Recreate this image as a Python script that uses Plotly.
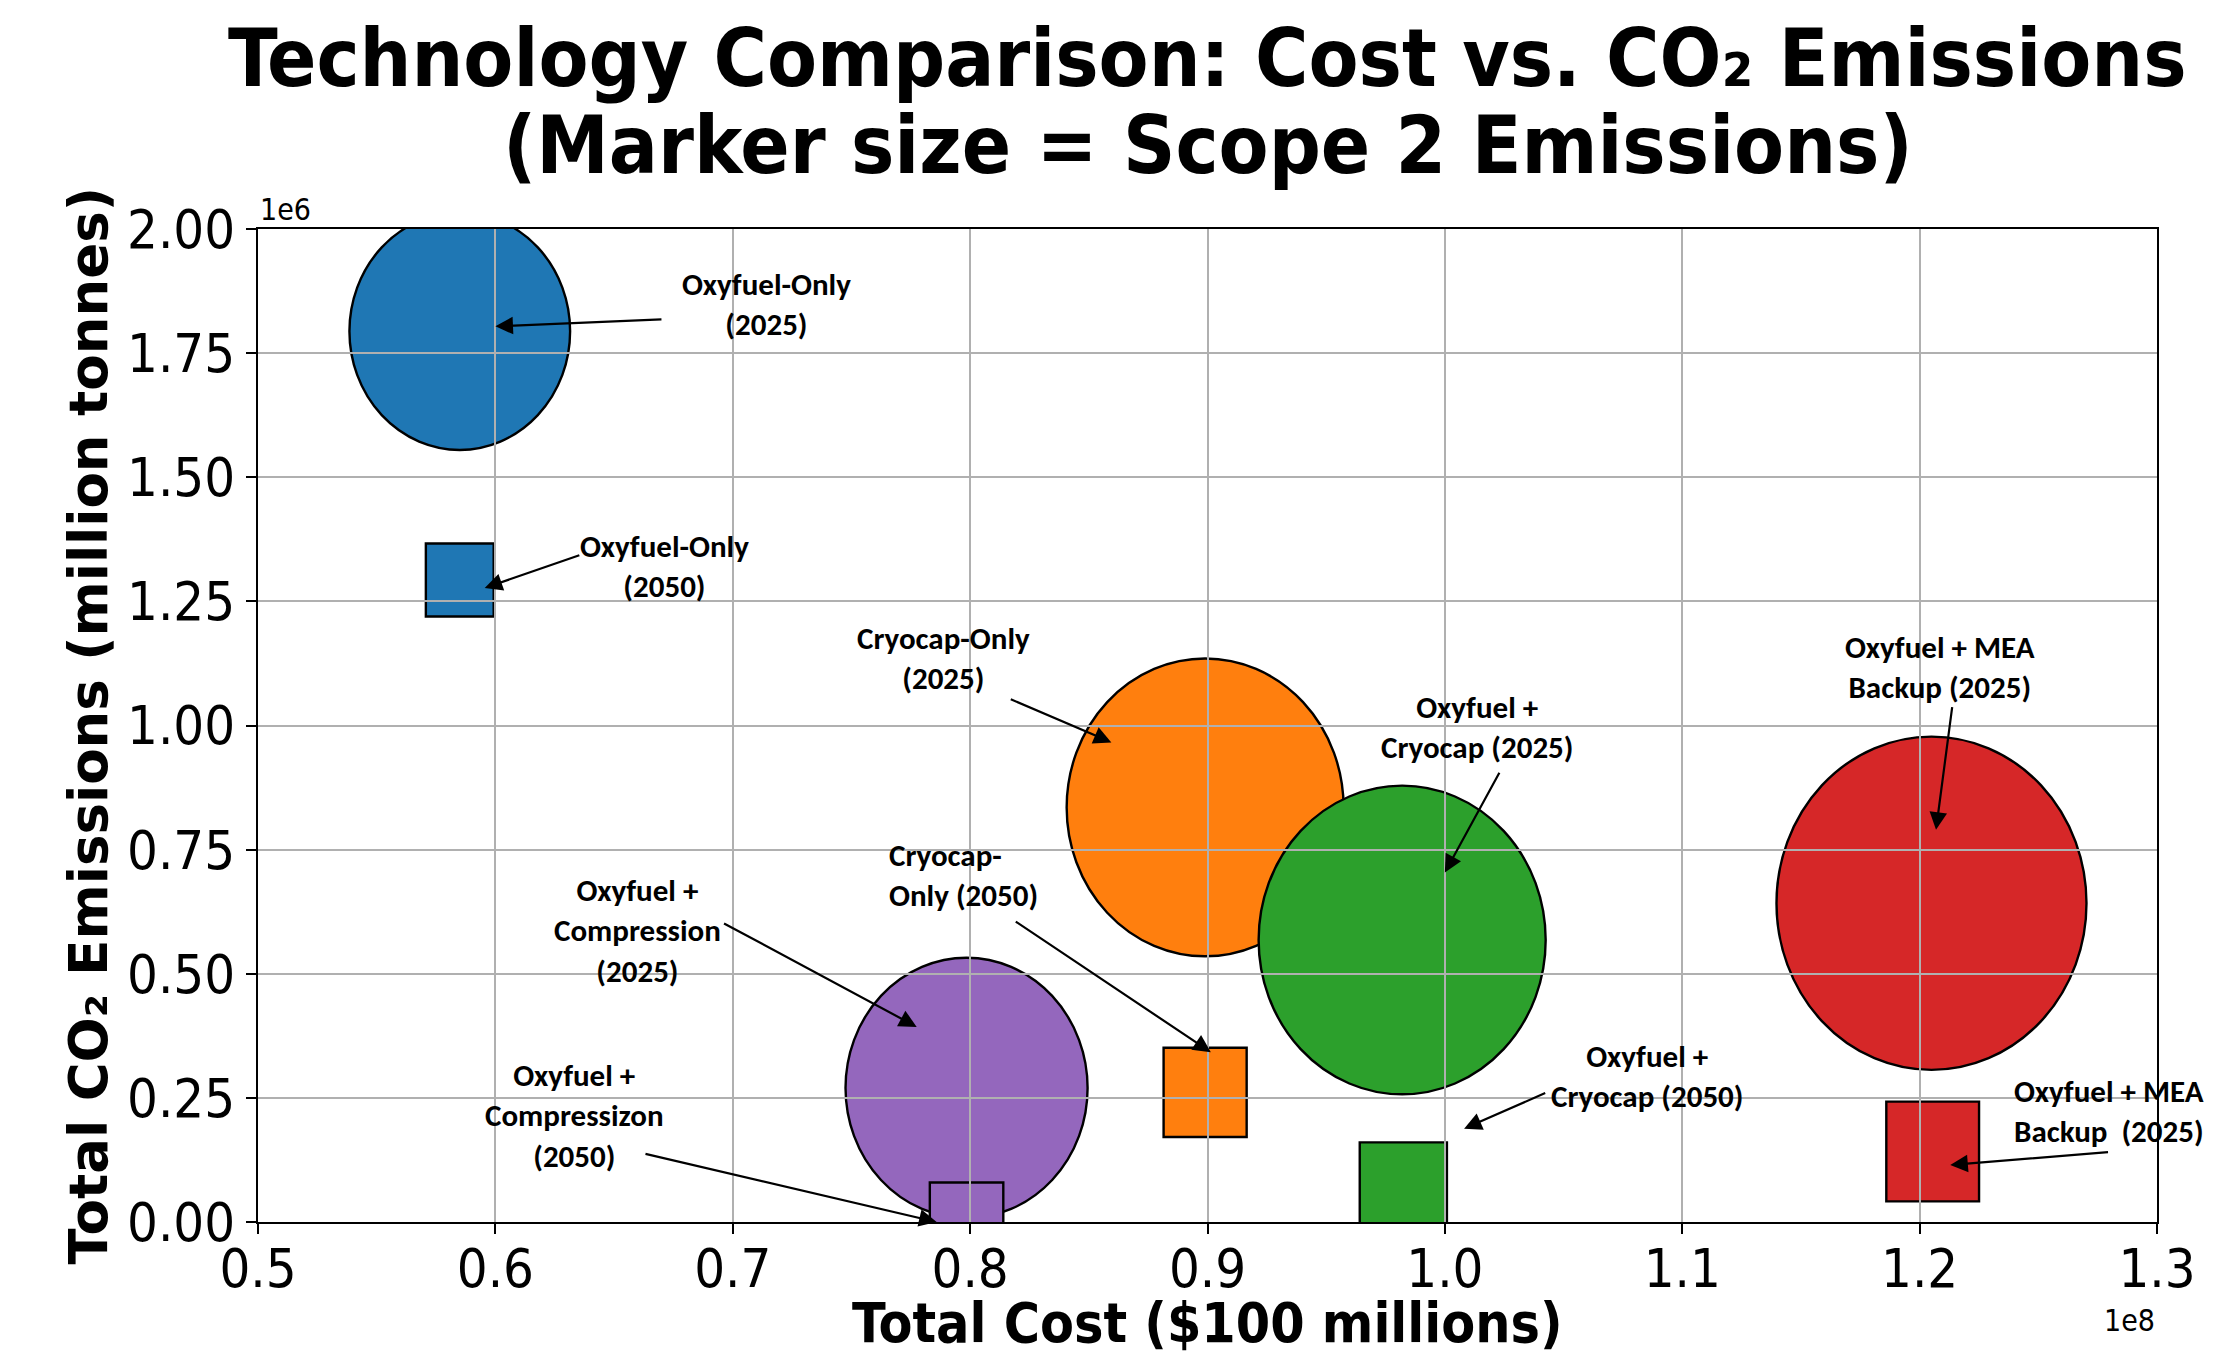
import math
import plotly.graph_objects as go

# ---------------- data ----------------
technologies = ["Oxyfuel-Only", "Cryocap-Only", "Oxyfuel + Cryocap",
                "Oxyfuel + MEA Backup", "Oxyfuel + Compression"]
colors = ["#1f77b4", "#ff7f0e", "#2ca02c", "#d62728", "#9467bd"]

# 2025 scenario (ellipses)
cost_2025 = [58.5e6, 89.9e6, 98.2e6, 120.5e6, 79.85e6]          # $
total_co2_2025 = [1.794e6, 0.835e6, 0.568e6, 0.642e6, 0.270e6]  # tonnes
scope2_2025 = [487, 767, 824, 961, 586]                          # kt (marker area)

# 2050 scenario (squares)
cost_2050 = [58.5e6, 89.9e6, 98.25e6, 120.55e6, 79.85e6]
total_co2_2050 = [1.293e6, 0.261e6, 0.066e6, 0.142e6, 0.0]
scope2_2050 = [46, 69, 76, 86, 54]

x_tick_values = [0.5e8, 0.6e8, 0.7e8, 0.8e8, 0.9e8, 1.0e8, 1.1e8, 1.2e8, 1.3e8]
x_tick_labels = ["0.5", "0.6", "0.7", "0.8", "0.9", "1.0", "1.1", "1.2", "1.3"]
y_tick_values = [0, 0.25e6, 0.5e6, 0.75e6, 1.0e6, 1.25e6, 1.5e6, 1.75e6, 2.0e6]
y_tick_labels = ["0.00", "0.25", "0.50", "0.75", "1.00", "1.25", "1.50", "1.75", "2.00"]

# annotation texts, arrow targets (data)
label_texts = [
    "Oxyfuel-Only<br>(2025)",
    "Oxyfuel-Only<br>(2050)",
    "Cryocap-Only<br>(2025)",
    "Oxyfuel +<br>Cryocap (2025)",
    "Oxyfuel + MEA<br>Backup (2025)",
    "Oxyfuel +<br>Compression<br>(2025)",
    "Cryocap-<br>Only (2050)",
    "Oxyfuel +<br>Compressizon<br>(2050)",
    "Oxyfuel +<br>Cryocap (2050)",
    "Oxyfuel + MEA<br>Backup\u00a0 (2025)",
]
arrow_x = [60.0e6, 59.55e6, 85.95e6, 100.0e6, 120.69e6, 77.75e6, 90.14e6, 78.59e6, 100.81e6, 121.29e6]
arrow_y = [1.804e6, 1.277e6, 0.966e6, 0.704e6, 0.790e6, 0.393e6, 0.342e6, 0.0, 0.188e6, 0.115e6]

# ---------------- layout of labels ----------------
tail_x = [67.06e6, 63.6e6, 81.65e6, 102.33e6, 121.38e6, 69.57e6, 81.86e6, 66.26e6, 104.29e6, 128.0e6]
tail_y = [1.818e6, 1.344e6, 1.054e6, 0.908e6, 1.040e6, 0.603e6, 0.607e6, 0.138e6, 0.261e6, 0.141e6]
text_x = [71.44e6, 67.12e6, 78.89e6, 101.35e6, 120.87e6, 65.98e6, 79.73e6, 63.33e6, 108.5e6, 127.96e6]
text_y = [1.849e6, 1.321e6, 1.136e6, 0.996e6, 1.118e6, 0.587e6, 0.699e6, 0.214e6, 0.294e6, 0.224e6]
text_align = ["center"] * 6 + ["left"] + ["center"] * 3

PX_PER_SQRT = 10.0      # marker diameter in px per sqrt(kt)
ASPECT = 0.93           # width / height of the markers as drawn

TICK_FONT = "DejaVu Sans Condensed, DejaVu Sans, sans-serif"
LABEL_FONT = "Calibri, Carlito, Lato, sans-serif"

fig = go.Figure()

# invisible traces carrying the data for hover
fig.add_trace(go.Scatter(x=cost_2025, y=total_co2_2025, mode="markers",
                         marker=dict(size=20, opacity=0), text=technologies,
                         customdata=scope2_2025, name="2025",
                         hovertemplate="%{text} (2025)<br>Cost %{x}<br>CO2 %{y}<br>Scope 2 %{customdata} kt<extra></extra>",
                         showlegend=False))
fig.add_trace(go.Scatter(x=cost_2050, y=total_co2_2050, mode="markers",
                         marker=dict(size=10, opacity=0), text=technologies,
                         customdata=scope2_2050, name="2050",
                         hovertemplate="%{text} (2050)<br>Cost %{x}<br>CO2 %{y}<br>Scope 2 %{customdata} kt<extra></extra>",
                         showlegend=False))

shapes = []
for cx, cy, s, c in zip(cost_2025, total_co2_2025, scope2_2025, colors):
    w = PX_PER_SQRT * math.sqrt(s)
    h = w / ASPECT
    shapes.append(dict(type="circle", xref="x", yref="y",
                       xsizemode="pixel", ysizemode="pixel",
                       xanchor=cx, yanchor=cy,
                       x0=-w / 2, x1=w / 2, y0=-h / 2, y1=h / 2,
                       fillcolor=c, line=dict(color="black", width=2.4),
                       layer="below"))
for cx, cy, s, c in zip(cost_2050, total_co2_2050, scope2_2050, colors):
    w = PX_PER_SQRT * math.sqrt(s)
    h = w / ASPECT
    shapes.append(dict(type="rect", xref="x", yref="y",
                       xsizemode="pixel", ysizemode="pixel",
                       xanchor=cx, yanchor=cy,
                       x0=-w / 2, x1=w / 2, y0=-h / 2, y1=h / 2,
                       fillcolor=c, line=dict(color="black", width=2.4),
                       layer="below"))

annotations = []
for hx, hy, tx, ty in zip(arrow_x, arrow_y, tail_x, tail_y):
    annotations.append(dict(x=hx, y=hy, xref="x", yref="y", ax=tx, ay=ty,
                            axref="x", ayref="y", text="", showarrow=True,
                            arrowhead=2, arrowsize=1.6, arrowwidth=2.2,
                            arrowcolor="black"))
for t, lx, ly, al in zip(label_texts, text_x, text_y, text_align):
    annotations.append(dict(x=lx, y=ly, xref="x", yref="y", text=t,
                            showarrow=False, align=al,
                            xanchor="center", yanchor="middle",
                            font=dict(family=LABEL_FONT, size=31, color="black",
                                      weight="bold")))

# title lines
annotations.append(dict(x=0.5, y=1.1727, xref="paper", yref="paper",
                        text="Technology Comparison: Cost vs. CO\u2082 Emissions",
                        showarrow=False, xanchor="center", yanchor="middle",
                        font=dict(family=TICK_FONT, size=81, color="black", weight="bold")))
annotations.append(dict(x=0.5, y=1.0841, xref="paper", yref="paper",
                        text="(Marker size = Scope 2 Emissions)",
                        showarrow=False, xanchor="center", yanchor="middle",
                        font=dict(family=TICK_FONT, size=81, color="black", weight="bold")))
# axis titles
annotations.append(dict(x=0.5, y=-0.1022, xref="paper", yref="paper",
                        text="Total Cost ($100 millions)", showarrow=False,
                        xanchor="center", yanchor="middle",
                        font=dict(family=TICK_FONT, size=55, color="black", weight="bold")))
annotations.append(dict(x=-0.0895, y=0.5, xref="paper", yref="paper",
                        text="Total CO\u2082 Emissions (million tonnes)", showarrow=False,
                        textangle=-90, xanchor="center", yanchor="middle",
                        font=dict(family="DejaVu Sans, sans-serif", size=53, color="black", weight="bold")))
# offset texts
annotations.append(dict(x=0, y=1, xref="paper", yref="paper", text="1e6",
                        showarrow=False, xanchor="left", yanchor="bottom",
                        font=dict(family=TICK_FONT, size=30, color="black")))
annotations.append(dict(x=1, y=0, xref="paper", yref="paper", text="1e8",
                        showarrow=False, xanchor="right", yanchor="top", yshift=-79,
                        font=dict(family=TICK_FONT, size=30, color="black")))

axis_common = dict(showgrid=True, gridcolor="#b0b0b0", gridwidth=2,
                   showline=True, linecolor="black", linewidth=2, mirror=True,
                   ticks="outside", ticklen=10, tickwidth=2, tickcolor="black",
                   zeroline=False,
                   tickfont=dict(family=TICK_FONT, size=54, color="black"))

fig.update_layout(
    width=2235, height=1355, autosize=False,
    margin=dict(l=258, r=78, t=229, b=133, pad=0),
    paper_bgcolor="white", plot_bgcolor="white",
    showlegend=False,
    shapes=shapes, annotations=annotations,
    xaxis=dict(range=[0.5e8, 1.3e8], tickvals=x_tick_values, ticktext=x_tick_labels,
               ticklabelstandoff=-12, **axis_common),
    yaxis=dict(range=[0, 2.0e6], tickvals=y_tick_values, ticktext=y_tick_labels,
               **axis_common),
)

fig.write_html("out.html")
